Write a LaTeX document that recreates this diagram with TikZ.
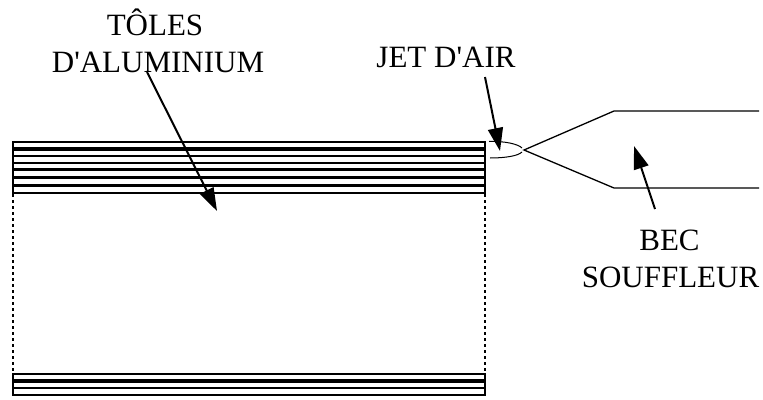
\documentclass[tikz,border=0pt]{standalone}
\usepackage{fontspec}
\setmainfont{Liberation Serif}
\usetikzlibrary{arrows.meta}
\tikzset{
  lbl/.style={inner sep=0pt,anchor=base,font=\fontsize{31}{37}\selectfont},
  sheet/.style={line width=2pt},
  thicksheet/.style={line width=3.2pt},
  edge/.style={line width=2pt,dash pattern=on 2.5pt off 3.5pt},
  wall/.style={line width=1.8pt},
  ptr/.style={line width=2pt,-{Triangle[length=23pt,width=15pt]}},
  thin line/.style={line width=1.3pt},
  air/.style={line width=1pt}
}
\begin{document}
\begin{tikzpicture}[x=1pt,y=-1pt]
\useasboundingbox (0,0) rectangle (763,399);
% sheets, top stack
\foreach \y in {142,156,163,193}{\draw[sheet] (13,\y)--(485,\y);}
\foreach \y in {149,169.5,177.5,185.5}{\draw[thicksheet] (13,\y)--(485,\y);}
% sheets, bottom stack
\foreach \y in {374,388,395}{\draw[sheet] (13,\y)--(485,\y);}
\draw[thicksheet] (13,381)--(485,381);
% sides
\draw[wall] (13,141)--(13,194);
\draw[wall] (485,141)--(485,194);
\draw[wall] (13,373)--(13,396);
\draw[wall] (485,373)--(485,396);
\draw[edge] (13,194)--(13,373);
\draw[edge] (485,194)--(485,373);
% nozzle
\coordinate (tip) at (524,150);
\coordinate (upper) at (614,111);
\coordinate (lower) at (614,188);
\draw[thin line] (759,111)--(upper)--(tip)--(lower)--(759,188);
% air jet
\draw[air] (489,141.5) .. controls (505,141) and (518,144) .. (522,148);
\draw[air] (490,158) .. controls (505,158) and (518,156) .. (522,152);
% labels
\node[lbl] (tol1) at (155,35) {TÔLES};
\node[lbl] (tol2) at (158,72) {D\textquotesingle ALUMINIUM};
\node[lbl] (jet) at (446,67) {JET D\textquotesingle AIR};
\node[lbl] (bec1) at (669.5,250) {BEC};
\node[lbl] (bec2) at (670.5,287) {SOUFFLEUR};
% pointers
\coordinate (p1s) at (147,72);
\coordinate (p1e) at (217,211);
\coordinate (p2s) at (485,77);
\coordinate (p2e) at (500,151);
\coordinate (p3s) at (655,209);
\coordinate (p3e) at (634,146);
\draw[ptr] (p1s)--(p1e);
\draw[ptr] (p2s)--(p2e);
\draw[ptr] (p3s)--(p3e);
\end{tikzpicture}
\end{document}
